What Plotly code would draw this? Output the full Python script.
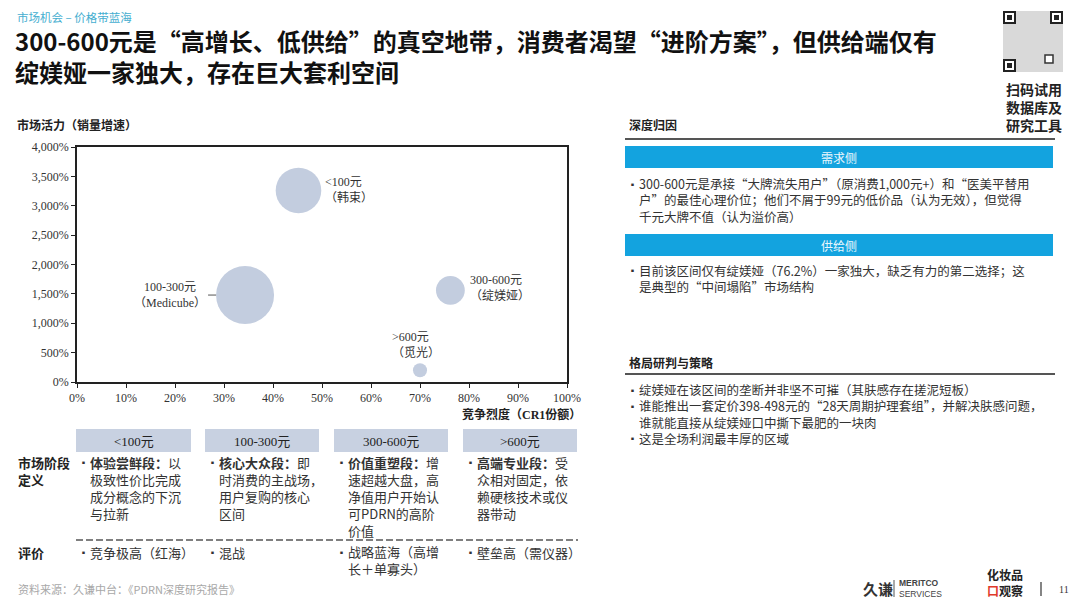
import plotly.graph_objects as go

# The page body keeps its default 8px margin, so the figure is drawn 16px smaller
# and all layout positions below are given in page pixels (offset by 8px).
PAGE_W, PAGE_H = 1080, 608
OX, OY = 8, 8
W, H = PAGE_W - 2 * OX, PAGE_H - 2 * OY

# ---------------- data ----------------
segments = ["<100元", "100-300元", "300-600元", ">600元"]
brands = ["韩束", "Medicube", "绽媄娅", "觅光"]
cr1_share = [45.2, 34.3, 76.2, 70.0]          # 竞争烈度（CR1份额）, %
sales_growth = [3260, 1480, 1560, 200]        # 市场活力（销量增速）, %
market_size = [21, 34, 8.4, 2.0]              # bubble size (relative)

x_ticks = [0, 10, 20, 30, 40, 50, 60, 70, 80, 90, 100]
y_ticks = [0, 500, 1000, 1500, 2000, 2500, 3000, 3500, 4000]

stage_def = [
    ["<b>体验尝鲜段：</b>以", "极致性价比完成", "成分概念的下沉", "与拉新"],
    ["<b>核心大众段：</b>即", "时消费的主战场，", "用户复购的核心", "区间"],
    ["<b>价值重塑段：</b>增", "速超越大盘，高", "净值用户开始认", "可PDRN的高阶", "价值"],
    ["<b>高端专业段：</b>受", "众相对固定，依", "赖硬核技术或仪", "器带动"],
]
evaluation = [
    ["竞争极高（红海）"],
    ["混战"],
    ["战略蓝海（高增", "长＋单寡头）"],
    ["壁垒高（需仪器）"],
]
demand_lines = [
    "300-600元是承接“大牌流失用户”（原消费1,000元+）和“医美平替用",
    "户”的最佳心理价位；他们不屑于99元的低价品（认为无效），但觉得",
    "千元大牌不值（认为溢价高）",
]
supply_lines = [
    "目前该区间仅有绽媄娅（76.2%）一家独大，缺乏有力的第二选择；这",
    "是典型的“中间塌陷”市场结构",
]
strategy_items = [
    ["绽媄娅在该区间的垄断并非坚不可摧（其肤感存在搓泥短板）"],
    ["谁能推出一套定价398-498元的“28天周期护理套组”，并解决肤感问题，",
     "谁就能直接从绽媄娅口中撕下最肥的一块肉"],
    ["这是全场利润最丰厚的区域"],
]

# ---------------- helpers ----------------
CJK = "Noto Sans CJK SC"
SERIF = "Liberation Serif, Noto Sans CJK SC"
ann = []
shapes = []


def px(x):
    return (x - OX) / W


def py(y):
    return 1 - (y - OY) / H


def text(x, y, s, size=13, color="#222", xanchor="left", yanchor="middle",
         family=CJK, align="left"):
    ann.append(dict(x=px(x), y=py(y), xref="paper", yref="paper", text=s,
                    showarrow=False, xanchor=xanchor, yanchor=yanchor, align=align,
                    font=dict(size=size, color=color, family=family)))


def block(x, y_first, lines, size=13, color="#333", **kw):
    """Multi-line text; y_first is the centre of the first line."""
    n = len(lines)
    yc = y_first + (n - 1) * 1.3 * size / 2
    text(x, yc, "<br>".join(lines), size=size, color=color, **kw)


def rect(x0, y0, x1, y1, fill, line_color=None, lw=0):
    shapes.append(dict(type="rect", xref="paper", yref="paper",
                       x0=px(x0), x1=px(x1), y0=py(y1), y1=py(y0),
                       fillcolor=fill, line=dict(width=lw, color=line_color or fill),
                       layer="below"))


def hline(x0, x1, y, color="#444", width=1.5, dash="solid"):
    shapes.append(dict(type="line", xref="paper", yref="paper",
                       x0=px(x0), x1=px(x1), y0=py(y), y1=py(y),
                       line=dict(color=color, width=width, dash=dash)))


def vline(x, y0, y1, color="#444", width=1.2):
    shapes.append(dict(type="line", xref="paper", yref="paper",
                       x0=px(x), x1=px(x), y0=py(y0), y1=py(y1),
                       line=dict(color=color, width=width)))


# ---------------- header ----------------
text(15, 17, "市场机会 – 价格带蓝海", size=11.5, color="#45aed0")
block(13, 40, ["<b>300-600元是“高增长、低供给”的真空地带，消费者渴望“进阶方案”，但供给端仅有</b>",
               "<b>绽媄娅一家独大，存在巨大套利空间</b>"], size=24, color="#111")

# QR-like block
rect(1003, 11, 1063, 72, "#d9d9d9")
for (qx, qy) in [(1004, 12), (1051, 12), (1004, 60)]:
    rect(qx, qy, qx + 11, qy + 11, "#ffffff", "#222", 2)
    rect(qx + 3, qy + 3, qx + 8, qy + 8, "#222")
rect(1045, 55, 1053, 63, "#ffffff", "#333", 1.5)
block(1034, 89, ["<b>扫码试用</b>", "<b>数据库及</b>", "<b>研究工具</b>"], size=14,
      color="#222", xanchor="center", align="center")

# ---------------- bubble chart ----------------
text(15, 125, "<b>市场活力（销量增速）</b>", size=12)
text(583, 414, "<b>竞争烈度（CR1份额）</b>", size=12, xanchor="right", family=SERIF)

fig = go.Figure()
fig.add_trace(go.Scatter(
    x=cr1_share, y=sales_growth, mode="markers",
    marker=dict(size=market_size, sizemode="area", sizeref=2 * 34 / 58 ** 2,
                color="#c3cddf", line=dict(width=0), opacity=1),
    text=[f"{s}（{b}）" for s, b in zip(segments, brands)],
    hoverinfo="text", showlegend=False, cliponaxis=False,
))

lab_font = dict(size=12, color="#333", family=SERIF)
# <100元 (韩束)
ann.append(dict(x=cr1_share[0], y=sales_growth[0], xref="x", yref="y",
                text=f"{segments[0]}<br>（{brands[0]}）", showarrow=False,
                xanchor="left", yanchor="middle", align="left", xshift=25, font=lab_font))
# 100-300元 (Medicube) with leader line
ann.append(dict(x=cr1_share[1], y=sales_growth[1], xref="x", yref="y",
                text=f"{segments[1]}<br>（{brands[1]}）", showarrow=True,
                arrowhead=0, arrowwidth=1, arrowcolor="#555", ax=-37, ay=0,
                standoff=29, xanchor="right", yanchor="middle", align="center",
                font=lab_font))
# 300-600元 (绽媄娅)
ann.append(dict(x=cr1_share[2], y=sales_growth[2], xref="x", yref="y",
                text=f"{segments[2]}<br>（{brands[2]}）", showarrow=False,
                xanchor="left", yanchor="middle", align="left", xshift=18, yshift=2,
                font=lab_font))
# >600元 (觅光)
ann.append(dict(x=cr1_share[3], y=sales_growth[3], xref="x", yref="y",
                text=f"{segments[3]}<br>（{brands[3]}）", showarrow=False,
                xanchor="center", yanchor="bottom", align="left", xshift=-4, yshift=8,
                font=lab_font))

# ---------------- segment table ----------------
box_x = [(76, 191), (205, 319), (334, 448), (463, 577)]
for (x0, x1), seg in zip(box_x, segments):
    rect(x0, 429, x1, 452, "#c8d1e1")
    text((x0 + x1) / 2, 441, seg, size=13, color="#222", xanchor="center", family=SERIF)

block(16, 463, ["<b>市场阶段</b>", "<b>定义</b>"], size=13, color="#222")
for (x0, x1), lines in zip(box_x, stage_def):
    text(x0 + 1, 463, "▪", size=9, color="#333")
    block(x0 + 12, 463, lines, size=13)

hline(76, 578, 540, color="#555", width=1.6, dash="7px,3px")

text(16, 552, "<b>评价</b>", size=13)
for (x0, x1), lines in zip(box_x, evaluation):
    text(x0 + 1, 552, "▪", size=9, color="#333")
    block(x0 + 12, 552, lines, size=13)

text(16, 589, "资料来源：久谦中台：《PDRN深度研究报告》", size=11, color="#a8a8a8")

# ---------------- right panel ----------------
RX0, RX1 = 625, 1053
RS = 12.5
text(627, 125, "<b>深度归因</b>", size=12)
hline(RX0, 1055, 139, color="#555", width=2)

rect(RX0, 146, RX1, 168, "#13a3df")
text((RX0 + RX1) / 2, 157, "需求侧", size=12, color="#eaf7fd", xanchor="center")
text(626, 184, "▪", size=9, color="#333")
block(637, 184, demand_lines, size=RS)

rect(RX0, 234, RX1, 256, "#13a3df")
text((RX0 + RX1) / 2, 245, "供给侧", size=12, color="#eaf7fd", xanchor="center")
text(626, 270, "▪", size=9, color="#333")
block(637, 270, supply_lines, size=RS)

text(627, 362, "<b>格局研判与策略</b>", size=12)
hline(RX0, 1055, 374, color="#555", width=2)
all_lines = []
for item in strategy_items:
    text(626, 390 + len(all_lines) * 1.3 * RS, "▪", size=9, color="#333")
    all_lines.extend(item)
block(637, 390, all_lines, size=RS)

# ---------------- footer logos ----------------
text(861, 588, "<b>久谦</b>", size=15, color="#333")
vline(894, 580, 597, color="#555", width=1)
block(897, 583, ["<b>MERITCO</b>", "SERVICES"], size=8.5, color="#444", family="Liberation Sans")
block(985, 575, ["<b>化妆品</b>",
                 "<b><span style='color:#e03a2a'>口</span>观察</b>"], size=12, color="#222")
vline(1041, 582, 596, color="#333", width=1.2)
text(1057, 589, "11", size=10, color="#333", family=SERIF)

# ---------------- layout ----------------
fig.update_layout(
    width=W, height=H, margin=dict(l=0, r=0, t=0, b=0),
    paper_bgcolor="white", plot_bgcolor="white",
    font=dict(family=CJK, color="#222"),
    xaxis=dict(domain=[px(77), px(567)], range=[0, 100], tickvals=x_ticks,
               ticktext=[f"{v}%" for v in x_ticks], ticks="outside", ticklen=4,
               tickcolor="#222", showline=True, linecolor="#222", linewidth=1.5,
               mirror=True, showgrid=False, zeroline=False, automargin=False,
               tickfont=dict(family=SERIF, size=12, color="#333")),
    yaxis=dict(domain=[py(382), py(147)], range=[0, 4000], tickvals=y_ticks,
               ticktext=[f"{v:,}%" for v in y_ticks], ticks="outside", ticklen=4,
               tickcolor="#222", showline=True, linecolor="#222", linewidth=1.5,
               mirror=True, showgrid=False, zeroline=False, automargin=False,
               tickfont=dict(family=SERIF, size=12, color="#333")),
    annotations=ann, shapes=shapes, hovermode="closest",
)

fig.write_html("out.html", config={"displayModeBar": False})
